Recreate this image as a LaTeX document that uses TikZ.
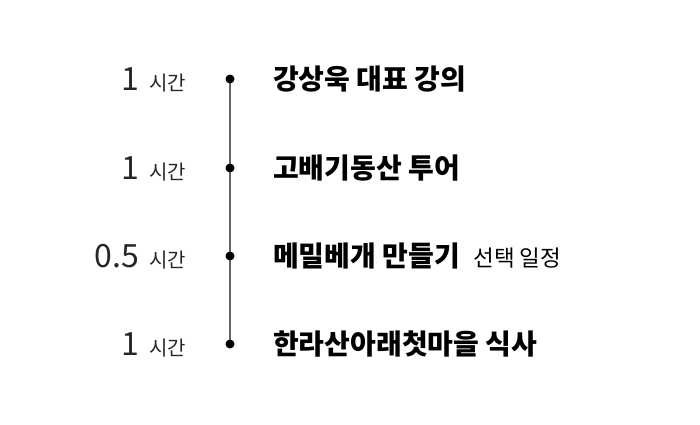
\documentclass[tikz,border=0pt]{standalone}
\usepackage{fontspec}
\setmainfont{Noto Sans CJK KR}
\begin{document}
\begin{tikzpicture}[x=1pt,y=-1pt,
  dur/.style={anchor=base east,inner sep=0pt,text=black!85},
  ttl/.style={anchor=base west,inner sep=0pt,font=\fontsize{28}{32}\selectfont\bfseries},
  note/.style={anchor=base west,inner sep=0pt,font=\fontsize{22.5}{26}\selectfont},
  dotn/.style={circle,fill=black,inner sep=0pt,minimum size=9pt}]
\useasboundingbox (0,0) rectangle (700,424);
\newcommand{\durtxt}[1]{{\fontsize{32}{34}\selectfont #1}\hspace{10pt}{\fontsize{20}{24}\selectfont 시간}}
\foreach \i/\y in {1/79,2/168,3/256,4/344}{
  \coordinate (c\i) at (230,\y);
}
\draw[line width=1.4pt,black!60] (c1) -- (c4);
\foreach \i in {1,...,4}{ \node[dotn] (d\i) at (c\i) {}; }
\node[dur] (t1) at (186,90) {\durtxt{1}};
\node[dur] (t2) at (186,179) {\durtxt{1}};
\node[dur] (t3) at (186,267) {\durtxt{0.5}};
\node[dur] (t4) at (186,355) {\durtxt{1}};
\node[ttl] (a1) at (273,89) {강상욱 대표 강의};
\node[ttl] (a2) at (273,178) {고배기동산 투어};
\node[ttl] (a3) at (273,266) {메밀베개 만들기};
\node[note] (n3) at ([xshift=13pt]a3.base east) {선택 일정};
\node[ttl] (a4) at (273,354) {한라산아래첫마을 식사};
\end{tikzpicture}
\end{document}
